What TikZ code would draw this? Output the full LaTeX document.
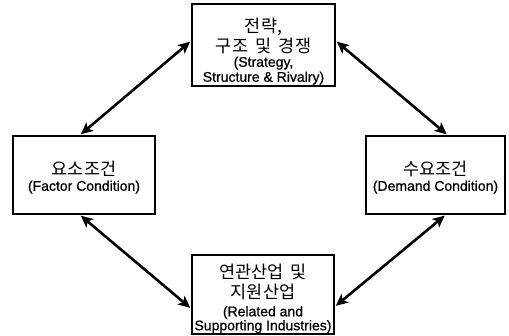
\documentclass[tikz,border=0pt]{standalone}
\usepackage{fontspec}
\setmainfont[FakeBold=0.8]{Liberation Sans}
\newfontfamily\kr{Noto Sans CJK KR}
\usetikzlibrary{arrows.meta}
\newcommand{\tightlines}{\lineskiplimit=-30pt\relax\lineskip=0pt\relax}
\tikzset{
  boxnode/.style={draw, line width=2pt, inner sep=0pt},
  txt/.style={align=center, inner sep=0pt, font={\fontsize{14}{15}\selectfont\tightlines}},
  biarrow/.style={line width=2.6pt, {Stealth[length=12pt,width=11pt,inset=3pt]}-{Stealth[length=12pt,width=11pt,inset=3pt]}, shorten <=1pt, shorten >=1pt},
}
\newcommand{\krt}[1]{{\kr\fontsize{17.5}{15}\selectfont #1}}
\newcommand{\ksp}{\hspace{0.42em}}
\begin{document}
\begin{tikzpicture}[x=1pt,y=-1pt]
\useasboundingbox (0,0) rectangle (509,336);
\node[boxnode, minimum width=143pt, minimum height=82pt] (strat) at (263.5,45) {};
\node[boxnode, minimum width=142pt, minimum height=78pt] (factor) at (84,175) {};
\node[boxnode, minimum width=139pt, minimum height=78pt] (demand) at (435.5,175) {};
\node[boxnode, minimum width=142pt, minimum height=79pt] (relat) at (263,294.5) {};
\node[txt] (strattxt) at ([yshift=-6.5pt]strat.center)
  {\krt{전략,}\\[5pt]\krt{구조\ksp 및\ksp 경쟁}\\[-1pt](Strategy,\\Structure \& Rivalry)};
\node[txt] (factortxt) at ([yshift=-2.5pt]factor.center)
  {\krt{요소조건}\\(Factor Condition)};
\node[txt] (demandtxt) at ([yshift=-2.5pt]demand.center)
  {\krt{수요조건}\\(Demand Condition)};
\node[txt] (relattxt) at ([yshift=-4pt]relat.center)
  {\krt{연관산업\ksp 및}\\[5pt]\krt{지원산업}\\[3pt](Related and\\[-1pt]Supporting Industries)};
\draw[biarrow] ([yshift=4pt]strat.west) -- ([xshift=-4pt]factor.north);
\draw[biarrow] ([yshift=4pt]strat.east) -- ([xshift=12pt]demand.north);
\draw[biarrow] ([xshift=-4pt]factor.south) -- ([yshift=-14pt]relat.west);
\draw[biarrow] ([xshift=10pt]demand.south) -- ([yshift=-12pt]relat.east);
\end{tikzpicture}
\end{document}
